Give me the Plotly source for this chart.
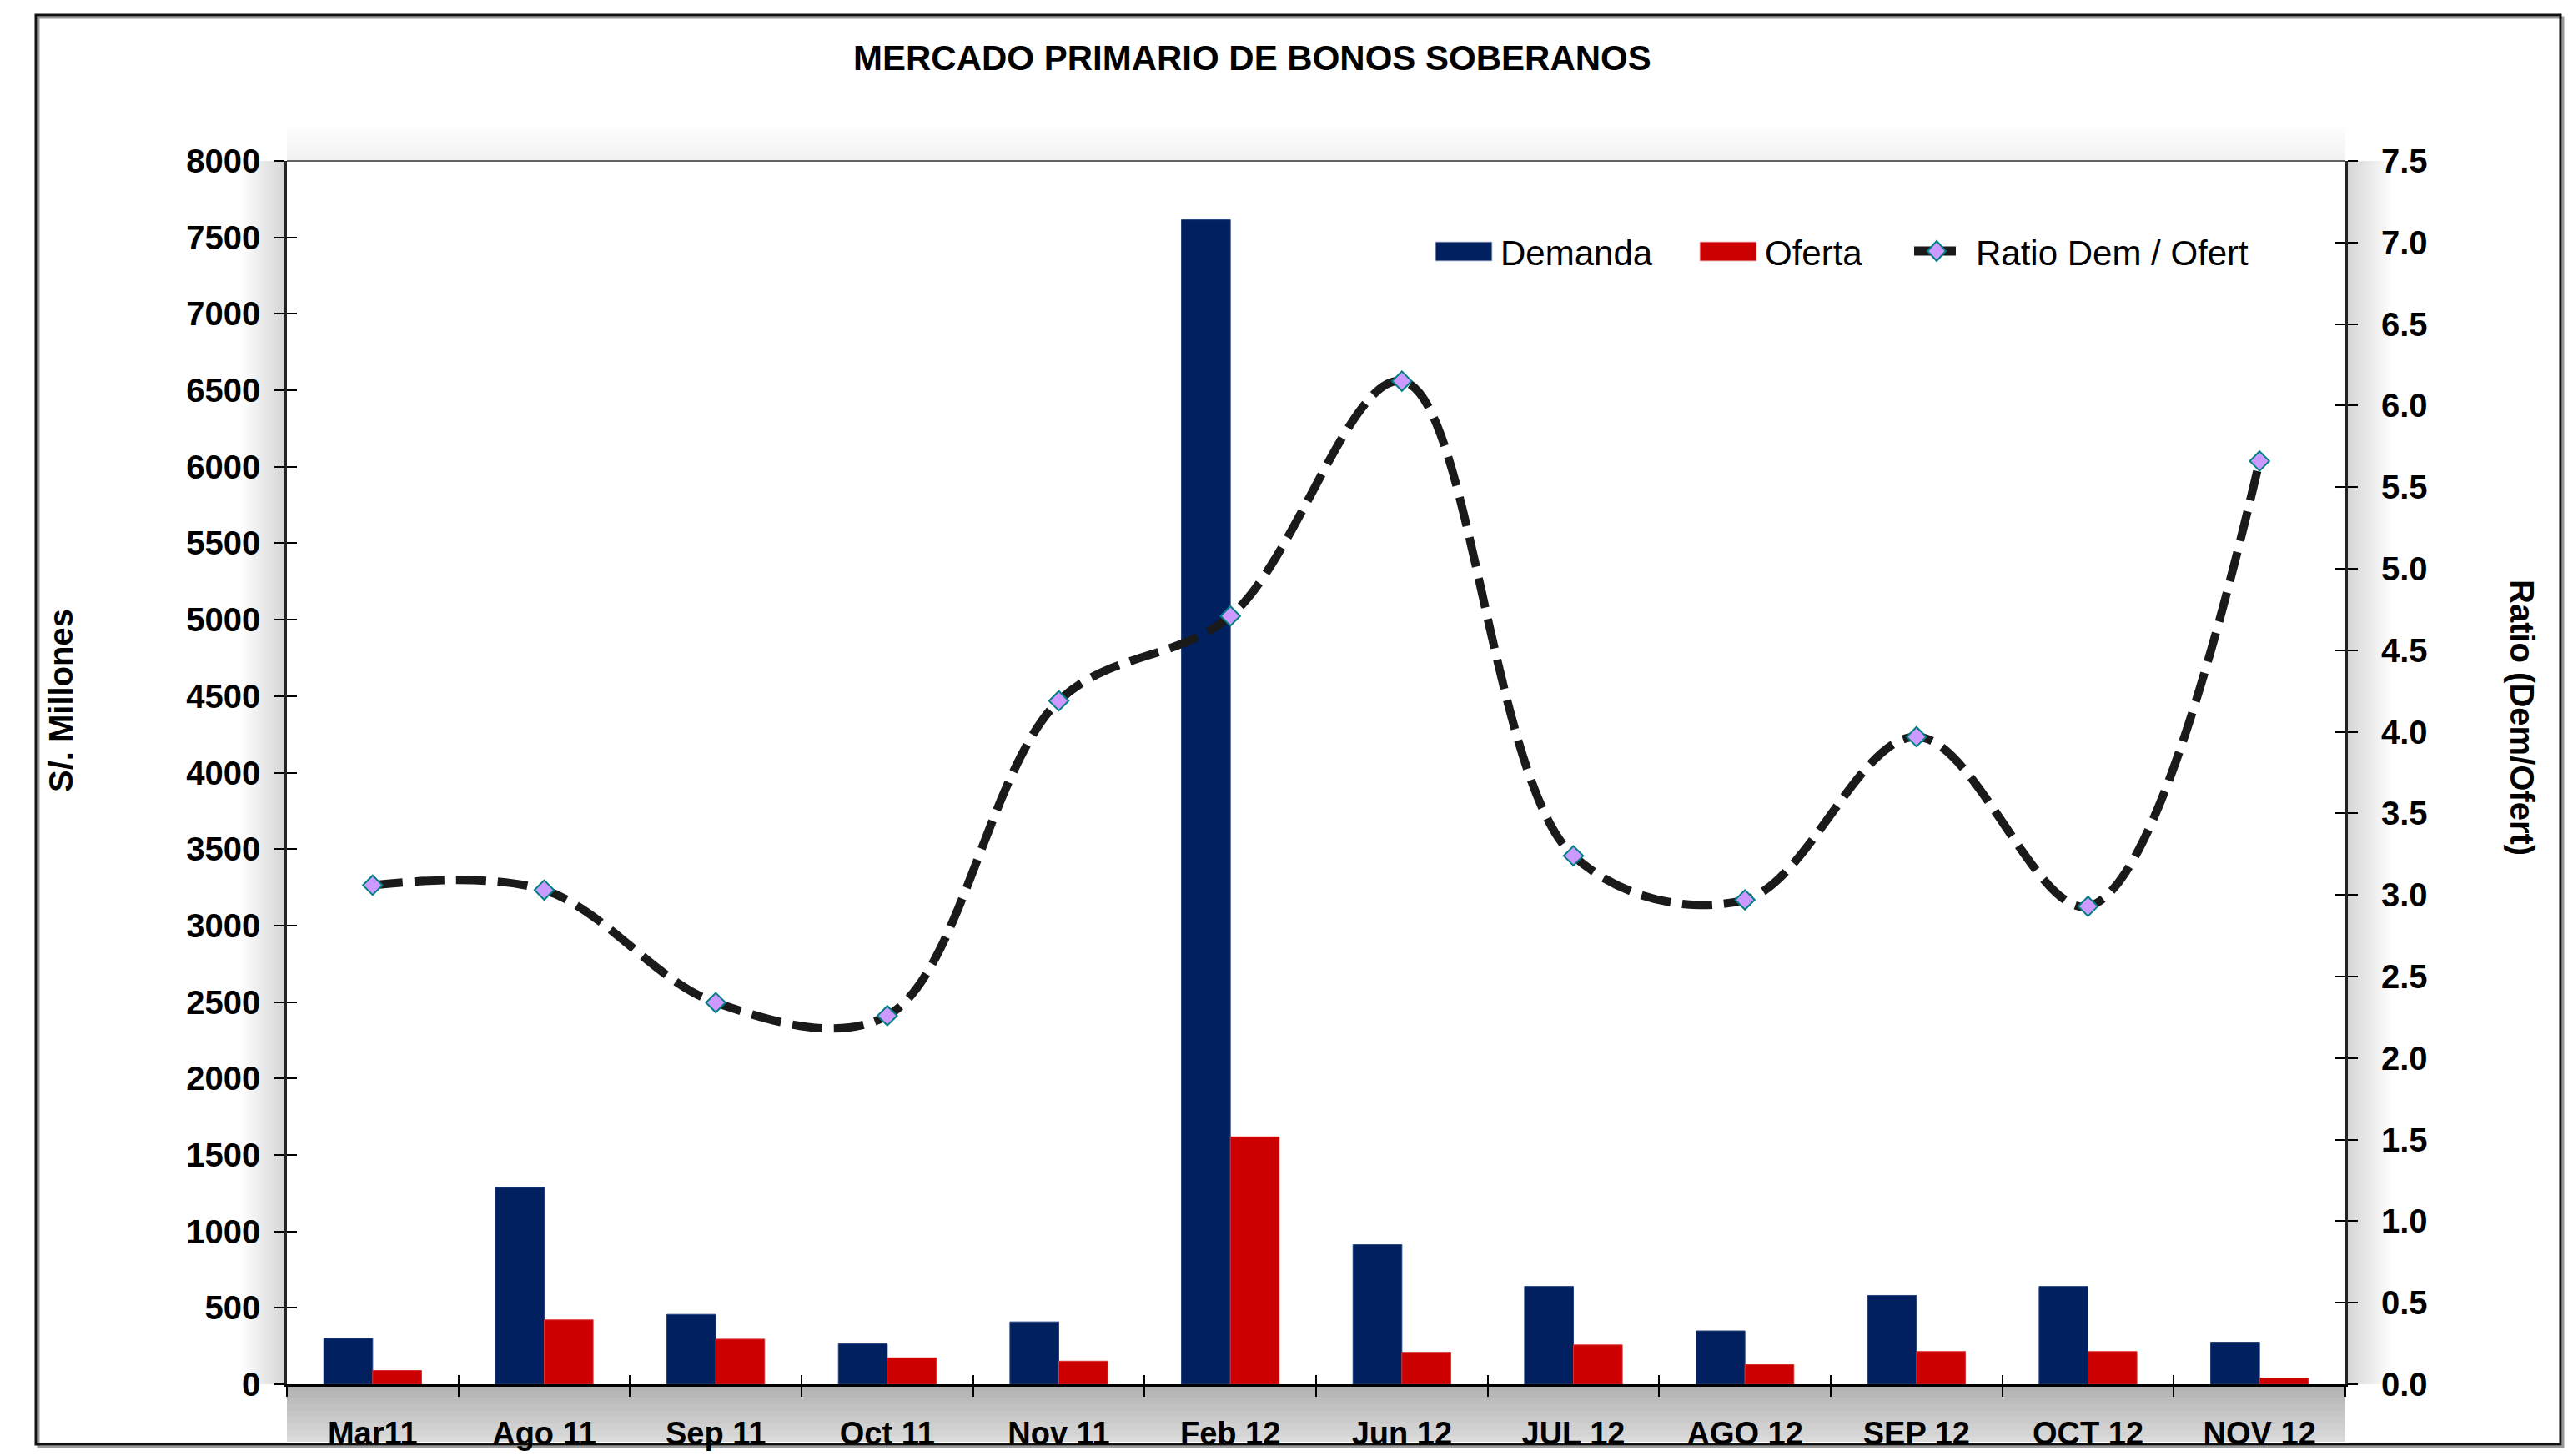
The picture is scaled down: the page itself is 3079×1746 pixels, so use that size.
import plotly.graph_objects as go

# ---------------- data ----------------
categories = ["Mar11", "Ago 11", "Sep 11", "Oct 11", "Nov 11", "Feb 12",
              "Jun 12", "JUL 12", "AGO 12", "SEP 12", "OCT 12", "NOV 12"]
demanda = [300, 1287, 457, 264, 408, 7615, 913, 640, 349, 581, 640, 275]
oferta = [90, 421, 295, 173, 151, 1618, 209, 257, 128, 214, 214, 41]
ratio = [3.06, 3.03, 2.34, 2.26, 4.19, 4.71, 6.15, 3.24, 2.97, 3.97, 2.93, 5.66]

title_text = "MERCADO PRIMARIO DE BONOS SOBERANOS"
y1_title = "S/. Millones"
y2_title = "Ratio (Dem/Ofert)"
legend_names = ["Demanda", "Oferta", "Ratio Dem / Ofert"]

# ---------------- style ----------------
W, H = 3079, 1746
ML, MR, MT, MB = 344, 267, 193, 86
PW = W - ML - MR
PH = H - MT - MB
FONT = "Liberation Sans, Arial, sans-serif"
NAVY = "#002060"
RED = "#CC0000"
LINE = "#1a1a1a"


def PX(x):
    return (x - ML) / PW


def PY(y):
    return (H - MB - y) / PH


fig = go.Figure()

fig.add_trace(go.Bar(x=categories, y=demanda, name=legend_names[0],
                     marker=dict(color=NAVY, line=dict(color="#24427e", width=1)),
                     showlegend=False))
fig.add_trace(go.Bar(x=categories, y=oferta, name=legend_names[1],
                     marker=dict(color=RED, line=dict(color="#d83030", width=1)),
                     showlegend=False))
fig.add_trace(go.Scatter(x=categories, y=ratio, name=legend_names[2], yaxis="y2",
                         mode="lines+markers",
                         line=dict(color=LINE, width=10, dash="36px,14px",
                                   shape="spline", smoothing=1.0),
                         marker=dict(symbol="diamond", size=18, color="#CC99FF",
                                     line=dict(color="#008080", width=2)),
                         showlegend=False))
# empty helper traces so the overlay axes (crossing tick halves) are drawn
fig.add_trace(go.Scatter(x=[], y=[], xaxis="x2", yaxis="y", showlegend=False, hoverinfo="skip"))
fig.add_trace(go.Scatter(x=[], y=[], xaxis="x", yaxis="y3", showlegend=False, hoverinfo="skip"))
fig.add_trace(go.Scatter(x=[], y=[], xaxis="x", yaxis="y4", showlegend=False, hoverinfo="skip"))

tickfont = dict(family=FONT, size=40, color="black", weight="bold")
n = len(categories)

fig.update_layout(
    width=W, height=H,
    margin=dict(l=ML, r=MR, t=MT, b=MB, autoexpand=False),
    paper_bgcolor="white", plot_bgcolor="white",
    barmode="group", bargap=0.43, bargroupgap=0.0,
    showlegend=False,
    xaxis=dict(type="category", range=[-0.5, n - 0.5], tickson="boundaries",
               ticks="outside", ticklen=12, tickwidth=1.5, tickcolor="black",
               showline=True, linecolor="black", linewidth=3,
               showgrid=False, zeroline=False, automargin=False,
               tickfont=dict(family=FONT, size=38, color="black", weight="bold"),
               ticklabelstandoff=23),
    xaxis2=dict(overlaying="x", anchor="y", range=[-0.5, n - 0.5],
                tickmode="array", tickvals=[i - 0.5 for i in range(n + 1)],
                ticks="inside", ticklen=11, tickwidth=1.5, tickcolor="black",
                showticklabels=False, showline=False, showgrid=False, zeroline=False),
    yaxis=dict(range=[0, 8000], dtick=500, ticks="outside", ticklen=12,
               tickwidth=1.5, tickcolor="black", showline=True, linecolor="#222",
               linewidth=2.5, showgrid=False, zeroline=False, tickfont=tickfont,
               ticklabelstandoff=9, automargin=False),
    yaxis2=dict(overlaying="y", side="right", anchor="x", range=[0, 7.5], dtick=0.5,
                tickformat=".1f", ticks="outside", ticklen=12, tickwidth=1.5,
                tickcolor="black", showline=True, linecolor="#222", linewidth=3,
                showgrid=False, zeroline=False, tickfont=tickfont,
                ticklabelstandoff=20, automargin=False),
    yaxis3=dict(overlaying="y", side="left", anchor="x", range=[0, 8000], dtick=500,
                ticks="inside", ticklen=12, tickwidth=1.5, tickcolor="black",
                showticklabels=False, showline=False, showgrid=False, zeroline=False),
    yaxis4=dict(overlaying="y", side="right", anchor="x", range=[0, 7.5], dtick=0.5,
                ticks="inside", ticklen=12, tickwidth=1.5, tickcolor="black",
                showticklabels=False, showline=False, showgrid=False, zeroline=False),
)

shapes = []


def rect(x0, y0, x1, y1, **kw):
    d = dict(type="rect", xref="paper", yref="paper",
             x0=PX(x0), x1=PX(x1), y0=PY(y0), y1=PY(y1))
    d.update(kw)
    shapes.append(d)


# soft shadow around plot area (stacked translucent strips)
def shadow(edge, depth, max_alpha, steps=14, limit=None):
    a = 1 - (1 - max_alpha) ** (1.0 / steps)
    for k in range(1, steps + 1):
        d = depth * k / steps
        if edge == "bottom":
            y1 = min(1660 + d, limit) if limit else 1660 + d
            rect(ML, 1660, ML + PW, y1, fillcolor=f"rgba(0,0,0,{a:.4f})",
                 line=dict(width=0), layer="below")
        elif edge == "left":
            rect(ML - d, MT, ML, 1660, fillcolor=f"rgba(0,0,0,{a:.4f})",
                 line=dict(width=0), layer="below")
        elif edge == "right":
            rect(ML + PW, MT, ML + PW + d, 1660, fillcolor=f"rgba(0,0,0,{a:.4f})",
                 line=dict(width=0), layer="below")
        elif edge == "top":
            rect(ML, MT - d, ML + PW, MT, fillcolor=f"rgba(0,0,0,{a:.4f})",
                 line=dict(width=0), layer="below")


shadow("bottom", 110, 0.27, limit=1729)
shadow("left", 55, 0.13)
shadow("right", 55, 0.13)
shadow("top", 45, 0.03)

# plot area top border
shapes.append(dict(type="line", xref="paper", yref="paper", x0=0, x1=1, y0=1, y1=1,
                   line=dict(color="#333", width=1.5)))

# outer frame with a small shadow
rect(46, 21, 3073, 1735, line=dict(color="#9a9a9a", width=3), layer="below")
rect(43, 18, 3070, 1732, line=dict(color="#111", width=3), layer="below")

# manual legend
LY = 301
rect(1721, 290, 1789, 313, fillcolor=NAVY, line=dict(color="#c8d0e0", width=1))
rect(2038, 290, 2106, 313, fillcolor=RED, line=dict(color="#f0c8c8", width=1))
shapes.append(dict(type="line", xref="paper", yref="paper",
                   x0=PX(2295), x1=PX(2345), y0=PY(LY), y1=PY(LY),
                   line=dict(color=LINE, width=11)))
cx, cy, hw, hh = 2322, LY, 11, 12
shapes.append(dict(type="path", xref="paper", yref="paper",
                   path=f"M {PX(cx)},{PY(cy - hh)} L {PX(cx + hw)},{PY(cy)} "
                        f"L {PX(cx)},{PY(cy + hh)} L {PX(cx - hw)},{PY(cy)} Z",
                   fillcolor="#CC99FF", line=dict(color="#008080", width=2)))

annotations = [
    dict(text=title_text, x=PX(1501), y=PY(70), xref="paper", yref="paper",
         xanchor="center", yanchor="middle", showarrow=False,
         font=dict(family=FONT, size=42, color="black", weight="bold")),
    dict(text=y1_title, x=PX(73), y=PY(840), xref="paper", yref="paper",
         xanchor="center", yanchor="middle", showarrow=False, textangle=-90,
         font=dict(family=FONT, size=40, color="black", weight="bold")),
    dict(text=y2_title, x=PX(3024), y=PY(860), xref="paper", yref="paper",
         xanchor="center", yanchor="middle", showarrow=False, textangle=90,
         font=dict(family=FONT, size=40, color="black", weight="bold")),
]
for name, x in zip(legend_names, [1797, 2114, 2367]):
    annotations.append(dict(text=name, x=PX(x), y=PY(304), xref="paper", yref="paper",
                            xanchor="left", yanchor="middle", showarrow=False,
                            font=dict(family=FONT, size=42, color="black")))

fig.update_layout(shapes=shapes, annotations=annotations)

fig.write_html("out.html",
               config={"displayModeBar": False},
               post_script="document.body.style.margin='0px';"
                           "document.body.style.padding='0px';"
                           "document.body.style.overflow='hidden';")
